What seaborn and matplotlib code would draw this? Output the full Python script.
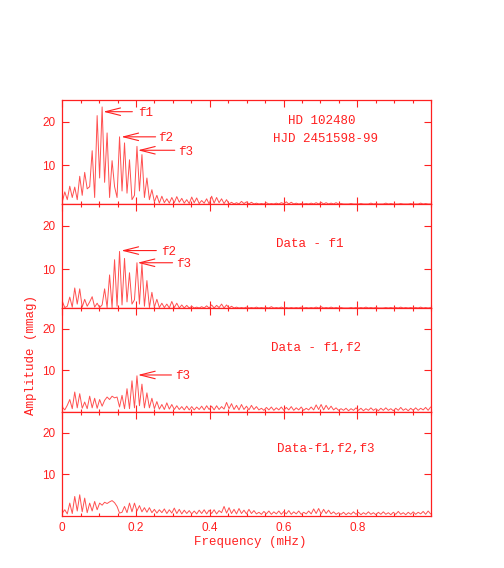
import numpy as np
import matplotlib
matplotlib.use("Agg")
import matplotlib.pyplot as plt
import seaborn as sns
from matplotlib.ticker import MultipleLocator

# frequency sampling (mHz), amplitudes (mmag)
freq = np.round(np.arange(149) * 0.00675, 5)

amp_p1 = [
    1.5, 3.8, 2.0, 5.1, 2.5, 4.9, 2.0, 7.4, 3.0, 8.3,
    4.5, 5.0, 13.3, 2.5, 21.4, 7.0, 23.4, 6.0, 17.4, 2.5,
    11.0, 5.0, 2.5, 16.5, 4.0, 15.1, 3.5, 11.2, 2.0, 3.0,
    14.3, 4.0, 12.4, 2.5, 7.0, 2.0, 4.3, 1.5, 3.0, 1.2,
    2.8, 1.3, 2.2, 1.2, 2.5, 1.3, 2.7, 1.4, 2.3, 1.2,
    2.0, 1.1, 2.6, 1.3, 2.4, 1.1, 1.8, 1.2, 2.2, 1.0,
    2.8, 1.2, 2.5, 1.3, 2.2, 1.1, 2.0, 1.0, 1.4, 1.0,
    1.3, 1.0, 1.6, 1.1, 1.5, 1.0, 1.4, 1.0, 1.2, 1.0,
    1.1, 1.0, 1.3, 1.0, 1.1, 1.0, 1.2, 1.0, 1.3, 1.1,
    1.5, 1.0, 1.4, 1.0, 1.2, 1.0, 1.1, 1.0, 1.1, 1.0,
    1.2, 1.0, 1.3, 1.0, 1.4, 1.0, 1.3, 1.0, 1.2, 1.0,
    1.3, 1.0, 1.1, 1.0, 1.0, 1.0, 1.1, 1.0, 1.0, 1.0,
    1.1, 1.0, 1.0, 1.0, 1.2, 1.0, 1.1, 1.0, 1.0, 1.0,
    1.2, 1.0, 1.1, 1.0, 1.0, 1.0, 1.1, 1.0, 1.0, 1.0,
    1.1, 1.0, 1.0, 1.0, 1.2, 1.0, 1.1, 1.0, 1.0,
]

amp_p2 = [
    2.6, 1.2, 1.5, 3.6, 1.3, 5.7, 2.0, 5.5, 1.3, 3.1,
    1.5, 2.5, 3.7, 1.3, 2.2, 1.2, 1.8, 5.5, 1.2, 8.7,
    1.2, 12.2, 1.5, 14.1, 1.8, 12.5, 2.5, 9.2, 2.0, 3.0,
    11.5, 2.0, 11.2, 1.5, 7.4, 1.2, 4.7, 1.3, 3.1, 1.2,
    2.2, 1.2, 2.0, 1.1, 2.6, 1.2, 2.2, 1.1, 1.8, 1.1,
    1.7, 1.1, 1.5, 1.1, 1.3, 1.1, 1.4, 1.1, 1.6, 1.1,
    1.8, 1.1, 1.7, 1.2, 2.0, 1.1, 1.8, 1.1, 1.5, 1.1,
    1.3, 1.1, 1.2, 1.1, 1.3, 1.1, 1.2, 1.1, 1.3, 1.1,
    1.2, 1.1, 1.2, 1.1, 1.4, 1.1, 1.2, 1.1, 1.3, 1.1,
    1.2, 1.1, 1.2, 1.1, 1.2, 1.1, 1.3, 1.1, 1.2, 1.1,
    1.2, 1.1, 1.3, 1.1, 1.4, 1.1, 1.2, 1.1, 1.3, 1.1,
    1.2, 1.1, 1.2, 1.1, 1.1, 1.1, 1.2, 1.1, 1.2, 1.1,
    1.2, 1.1, 1.3, 1.1, 1.2, 1.1, 1.2, 1.1, 1.1, 1.1,
    1.2, 1.1, 1.2, 1.1, 1.2, 1.1, 1.3, 1.1, 1.2, 1.1,
    1.2, 1.1, 1.2, 1.1, 1.3, 1.1, 1.2, 1.1, 1.2,
]

amp_p3 = [
    1.2, 0.5, 1.6, 3.0, 0.8, 4.8, 1.0, 4.4, 0.9, 2.4,
    0.8, 3.8, 1.0, 3.3, 0.9, 3.0, 1.4, 2.8, 3.6, 3.0,
    3.8, 3.4, 3.6, 1.2, 4.0, 0.8, 5.6, 0.8, 7.5, 1.0,
    8.7, 1.5, 6.7, 1.0, 4.6, 1.0, 3.3, 0.8, 2.5, 0.7,
    1.8, 0.6, 2.2, 0.7, 1.8, 0.6, 1.5, 0.6, 1.3, 0.5,
    1.4, 0.5, 1.3, 0.5, 1.2, 0.6, 1.4, 0.5, 1.5, 0.6,
    1.4, 0.5, 1.5, 0.6, 1.3, 0.7, 2.3, 0.8, 2.0, 0.6,
    1.6, 0.5, 1.8, 0.6, 1.4, 0.5, 1.6, 0.6, 1.3, 0.5,
    0.9, 0.4, 1.1, 0.5, 1.2, 0.4, 1.0, 0.5, 1.2, 0.4,
    1.1, 0.5, 1.3, 0.4, 1.0, 0.5, 1.2, 0.4, 0.9, 0.5,
    1.2, 0.5, 1.7, 0.6, 1.8, 0.5, 1.6, 0.6, 1.4, 0.5,
    1.0, 0.4, 0.8, 0.4, 0.9, 0.3, 0.8, 0.4, 1.0, 0.4,
    0.9, 0.3, 0.8, 0.4, 1.0, 0.4, 0.8, 0.3, 0.9, 0.4,
    1.0, 0.4, 0.8, 0.3, 0.9, 0.4, 1.1, 0.4, 0.8, 0.3,
    0.9, 0.4, 1.0, 0.4, 0.9, 0.5, 1.1, 0.4, 1.2,
]

amp_p4 = [
    0.7, 1.5, 0.5, 3.1, 0.6, 4.7, 1.2, 5.1, 1.0, 4.3,
    0.8, 3.1, 1.2, 3.5, 1.5, 3.1, 2.6, 3.3, 3.0, 3.4,
    3.7, 3.2, 2.3, 0.7, 0.9, 2.3, 0.8, 3.1, 1.0, 3.1,
    1.2, 2.5, 1.0, 2.0, 0.9, 2.0, 0.8, 1.6, 0.7, 1.5,
    0.8, 1.7, 0.6, 1.5, 0.7, 1.9, 0.6, 1.6, 0.5, 1.4,
    0.6, 1.3, 0.5, 1.2, 0.5, 1.4, 0.6, 1.5, 0.5, 1.4,
    0.6, 1.5, 0.5, 1.3, 0.8, 2.3, 0.7, 2.0, 0.6, 1.6,
    0.5, 1.8, 0.6, 1.4, 0.5, 1.6, 0.6, 1.3, 0.5, 0.9,
    0.4, 1.1, 0.5, 1.2, 0.4, 1.0, 0.5, 1.2, 0.4, 1.1,
    0.5, 1.3, 0.4, 1.0, 0.5, 1.2, 0.4, 0.9, 0.5, 1.2,
    0.5, 1.7, 0.6, 1.8, 0.5, 1.6, 0.6, 1.4, 0.5, 1.0,
    0.4, 0.8, 0.4, 0.9, 0.3, 0.8, 0.4, 1.0, 0.4, 0.9,
    0.3, 0.8, 0.4, 1.0, 0.4, 0.8, 0.3, 0.9, 0.4, 1.0,
    0.4, 0.8, 0.3, 0.9, 0.4, 1.1, 0.4, 0.8, 0.3, 0.9,
    0.4, 1.0, 0.4, 0.9, 0.5, 1.1, 0.4, 1.2, 0.5,
]

panel_amps = [amp_p1, amp_p2, amp_p3, amp_p4]
panel_ymin = [1.0, 1.1, 0.0, 0.0]

# panel captions: (text, freq, amp)
captions = [
    [("HD 102480", 0.705, 20.1), ("HJD 2451598-99", 0.715, 16.1)],
    [("Data - f1", 0.67, 15.8)],
    [("Data - f1,f2", 0.688, 15.4)],
    [("Data-f1,f2,f3", 0.715, 16.0)],
]

# arrows marking frequencies: (label, tip freq, tip amp, tail freq, label freq)
arrows = [
    [("f1", 0.111, 22.3, 0.190, 0.205),
     ("f2", 0.160, 16.5, 0.253, 0.260),
     ("f3", 0.205, 13.4, 0.305, 0.313)],
    [("f2", 0.160, 14.3, 0.255, 0.269),
     ("f3", 0.204, 11.5, 0.299, 0.309)],
    [("f3", 0.205, 8.9, 0.296, 0.305)],
    [],
]

xtick_pos = [0, 0.2, 0.4, 0.6, 0.8]
xtick_labels = ["0", "0.2", "0.4", "0.6", "0.8"]
ytick_pos = [10, 20]
ytick_labels = ["10", "20"]

RED = "#ff2020"
LINE = "#ff5050"
MONO = ["Liberation Mono", "DejaVu Sans Mono"]

sns.set_style("white")
plt.rcParams["font.family"] = ["Liberation Sans", "DejaVu Sans"]

fig = plt.figure(figsize=(5.04, 5.68), dpi=100)

left = 62.3 / 504
width = 368.7 / 504
ph = 104.0 / 568

for k, amp in enumerate(panel_amps):
    bottom = 1 - (100 + 104 * (k + 1)) / 568
    ax = fig.add_axes([left, bottom, width, ph])
    sns.lineplot(x=freq, y=amp, ax=ax, color=LINE, linewidth=0.7,
                 estimator=None, legend=False)
    ax.set_xlim(0, 1.0)
    ax.set_ylim(panel_ymin[k], 25)
    ax.set_xlabel("")
    ax.set_ylabel("")

    for sp in ax.spines.values():
        sp.set_color(RED)
        sp.set_linewidth(0.9)
        sp.set_visible(True)

    ax.set_xticks(xtick_pos)
    ax.xaxis.set_minor_locator(MultipleLocator(0.05))
    ax.set_yticks(ytick_pos)
    if k == 3:
        ax.set_xticklabels(xtick_labels)
    else:
        ax.set_xticklabels([])
    ax.set_yticklabels(ytick_labels)
    ax.tick_params(which="major", direction="in", top=True, right=True,
                   bottom=True, left=True, length=5, width=0.8,
                   color=RED, labelcolor=RED, labelsize=8.5)
    ax.tick_params(axis="x", which="minor", direction="in", top=True,
                   bottom=True, length=2.5, width=0.8, color=RED)
    ax.tick_params(axis="x", which="major", pad=4)
    ax.tick_params(axis="y", which="major", pad=5)

    for txt, fx, fy in captions[k]:
        ax.text(fx, fy, txt, ha="center", va="center", color=RED,
                fontsize=9, family=MONO)

    for lab, tf, ta, tailf, labf in arrows[k]:
        ax.annotate("", xy=(tf, ta), xytext=(tailf, ta),
                    arrowprops=dict(arrowstyle="->,head_length=1.2,head_width=0.3",
                                    color=RED, lw=0.8, shrinkA=0, shrinkB=0,
                                    mutation_scale=9))
        ax.text(labf, ta - 0.3, lab, ha="left", va="center", color=RED,
                fontsize=9, family=MONO)

fig.text(250 / 504, 1 - 542 / 568, "Frequency (mHz)", ha="center", va="center",
         color=RED, fontsize=9, family=MONO)
fig.text(31 / 504, 1 - 355 / 568, "Amplitude (mmag)", ha="center", va="center",
         rotation=90, color=RED, fontsize=9, family=MONO)

fig.savefig("out.png", dpi=100)
